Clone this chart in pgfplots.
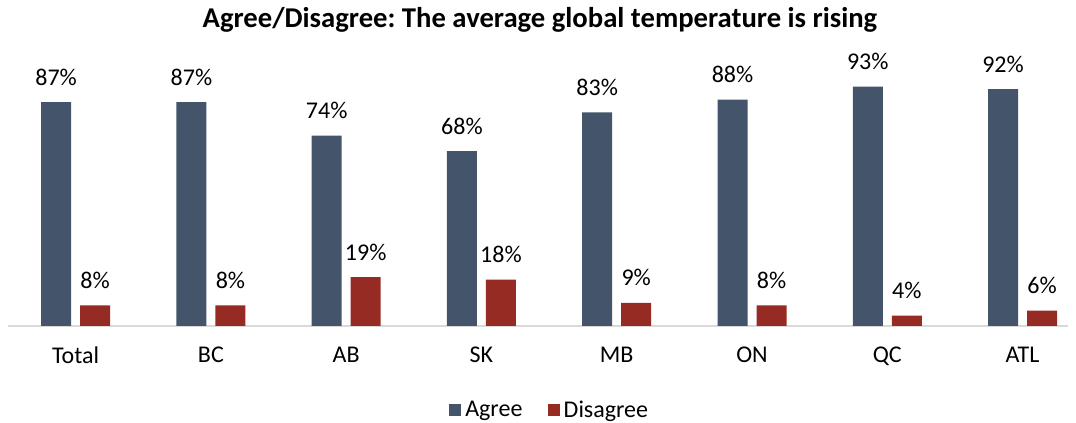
\documentclass[border=0pt]{standalone}
\usepackage{pgfplots}
\pgfplotsset{compat=1.18}
\usepackage{fontspec}
\setmainfont{Carlito}
\frenchspacing
\definecolor{agree}{HTML}{44546A}
\definecolor{disagree}{HTML}{952B22}
\begin{document}
\begin{tikzpicture}
\useasboundingbox (0,0) rectangle (807pt,317.25pt);
\node[font=\fontsize{21.5}{24}\selectfont\bfseries] at (405pt,302pt) {Agree/Disagree: The average global temperature is rising};
\begin{axis}[
  at={(6pt,72.75pt)}, anchor=south west,
  scale only axis, width=795pt, height=193pt,
  ybar=6.75pt, bar width=22.5pt,
  xmin=-0.5, xmax=7.336, ymin=0, ymax=100,
  axis x line=bottom, axis y line=none,
  axis line style={draw=black!15, line width=1pt, -},
  xtick=data, xticklabels={Total,BC,AB,SK,MB,ON,QC,ATL},
  xtick style={draw=none},
  /pgf/number format/assume math mode=true,
  xticklabel style={font=\fontsize{18}{21}\selectfont, yshift=-10pt},
  nodes near coords={\pgfmathprintnumber{\pgfplotspointmeta}\%},
  every node near coord/.append style={font=\fontsize{18}{21}\selectfont, black, yshift=9pt},
  legend style={at={(0.512,-0.326)}, anchor=center, draw=none, legend columns=2,
     font=\fontsize{18}{21}\selectfont, /tikz/every even column/.append style={column sep=16pt},
     nodes={inner xsep=3pt}},
  legend image code/.code={\fill[#1] (0pt,-4.5pt) rectangle (9pt,4.5pt);},
]
\addplot[fill=agree, draw=none] coordinates {(0,87) (1,87) (2,74) (3,68) (4,83) (5,88) (6,93) (7,92)};
\addplot[fill=disagree, draw=none] coordinates {(0,8) (1,8) (2,19) (3,18) (4,9) (5,8) (6,4) (7,6)};
\legend{Agree,Disagree}
\end{axis}
\end{tikzpicture}
\end{document}
